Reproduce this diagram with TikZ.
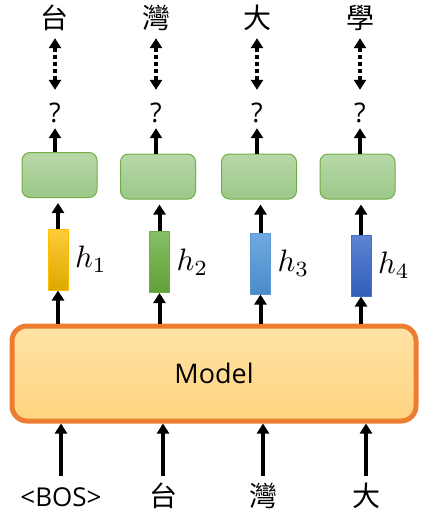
\documentclass[tikz,border=0pt]{standalone}
\usepackage{fontspec}
\setmainfont{Open Sans}
\newfontfamily\cjk{Noto Sans CJK TC}
\usepackage{tikz}
\usetikzlibrary{arrows.meta,calc,positioning}
\definecolor{mdlorange}{HTML}{ED7D31}
\definecolor{mdltop}{HTML}{FFE2A6}
\definecolor{mdlbot}{HTML}{FFD47F}
\definecolor{headgreen}{HTML}{70AD47}
\definecolor{headtop}{HTML}{B7D8A8}
\definecolor{headbot}{HTML}{9CC888}
\definecolor{hone}{HTML}{FFC000}
\definecolor{honetop}{HTML}{FFCB3A}
\definecolor{honebot}{HTML}{DCA900}
\definecolor{htwo}{HTML}{70AD47}
\definecolor{htwotop}{HTML}{88BE65}
\definecolor{htwobot}{HTML}{609F38}
\definecolor{hthree}{HTML}{5B9BD5}
\definecolor{hthreetop}{HTML}{70A9DE}
\definecolor{hthreebot}{HTML}{4A8BCA}
\definecolor{hfour}{HTML}{4472C4}
\definecolor{hfourtop}{HTML}{5F84D3}
\definecolor{hfourbot}{HTML}{2F5EB8}

\begin{document}
\begin{tikzpicture}[
    x=1pt,y=-1pt,
    >={Triangle[width=12pt,length=10pt]},
    word/.style={inner sep=0pt,text height=22pt,text depth=6pt,anchor=base,
      font=\fontsize{27}{32}\selectfont},
    token/.style={word,font=\fontsize{28}{32}\selectfont\cjk},
    model/.style={
      rectangle,rounded corners=15pt,draw=mdlorange,line width=5pt,
      top color=mdltop,bottom color=mdlbot,
      minimum width=404pt,minimum height=95pt,font=\fontsize{27}{32}\selectfont
    },
    head/.style={
      rectangle,rounded corners=8pt,draw=headgreen,line width=1pt,
      top color=headtop,bottom color=headbot,
      minimum width=75pt,minimum height=45pt
    },
    hvec/.style={rectangle,line width=1pt,inner sep=0pt,
      minimum width=20pt,minimum height=61pt},
    hlab/.style={inner sep=0pt,scale=3.1,font=\normalsize},
    flow/.style={->,line width=4pt},
    dotflow/.style={<->,line width=4pt,dash pattern=on 4pt off 3pt,
      shorten <=4pt,shorten >=10pt}
  ]
    \useasboundingbox (0,0) rectangle (426,520);

    \node[token] (out1) at (55,28) {台};
    \node[token] (out2) at (156,28) {灣};
    \node[token] (out3) at (257,28) {大};
    \node[token] (out4) at (360,28) {學};

    \node[word] (q1) at (55,122) {?};
    \node[word] (q2) at (156,122) {?};
    \node[word] (q3) at (257,122) {?};
    \node[word] (q4) at (360,122) {?};

    \node[head] (head1) at (59.5,175) {};
    \node[head] (head2) at (158,176.5) {};
    \node[head] (head3) at (259,176.5) {};
    \node[head] (head4) at (357.5,176.5) {};

    \node[hvec,draw=hone,top color=honetop,bottom color=honebot] (h1) at (58,259.5) {};
    \node[hvec,draw=htwo,top color=htwotop,bottom color=htwobot] (h2) at (159.5,262) {};
    \node[hvec,draw=hthree,top color=hthreetop,bottom color=hthreebot] (h3) at (260.5,263.5) {};
    \node[hvec,draw=hfour,top color=hfourtop,bottom color=hfourbot] (h4) at (361,265.5) {};

    \node[hlab,right=6pt of h1] (hl1) {$h_1$};
    \node[hlab,right=6pt of h2] (hl2) {$h_2$};
    \node[hlab,right=6pt of h3] (hl3) {$h_3$};
    \node[hlab,right=6pt of h4] (hl4) {$h_4$};

    \node[model] (model) at (214,373.5) {Model};

    \node[word,font=\fontsize{26}{30}\selectfont] (in1) at (61,506) {<BOS>};
    \node[token] (in2) at (163,506) {台};
    \node[token] (in3) at (263,506) {灣};
    \node[token] (in4) at (366,506) {大};

    \draw[dotflow] (out1) -- (q1);
    \draw[dotflow] (out2) -- (q2);
    \draw[dotflow] (out3) -- (q3);
    \draw[dotflow] (out4) -- (q4);

    \draw[flow] (q1 |- head1.north) -- (q1);
    \draw[flow] (q2 |- head2.north) -- (q2);
    \draw[flow] (q3 |- head3.north) -- (q3);
    \draw[flow] (q4 |- head4.north) -- (q4);

    \draw[flow,shorten >=5pt] (h1) -- (h1 |- head1.south);
    \draw[flow,shorten >=5pt] (h2) -- (h2 |- head2.south);
    \draw[flow,shorten >=5pt] (h3) -- (h3 |- head3.south);
    \draw[flow,shorten >=5pt] (h4) -- (h4 |- head4.south);

    \draw[flow] (h1 |- model.north) -- (h1);
    \draw[flow] (h2 |- model.north) -- (h2);
    \draw[flow] (h3 |- model.north) -- (h3);
    \draw[flow] (h4 |- model.north) -- (h4);

    \draw[flow,shorten <=8pt] (in1) -- (in1 |- model.south);
    \draw[flow,shorten <=8pt] (in2) -- (in2 |- model.south);
    \draw[flow,shorten <=8pt] (in3) -- (in3 |- model.south);
    \draw[flow,shorten <=8pt] (in4) -- (in4 |- model.south);
  \end{tikzpicture}
\end{document}
